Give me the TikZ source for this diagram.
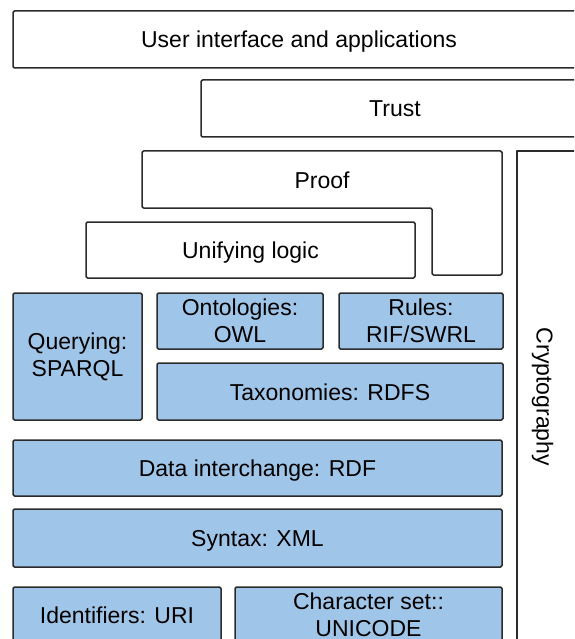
\documentclass[tikz,border=0pt]{standalone}
\usepackage{fontspec}
\setmainfont{Liberation Sans}
\definecolor{layerblue}{HTML}{9FC5E8}
\definecolor{layerline}{HTML}{2B2B2B}
\tikzset{
	layer/.style={draw=layerline, line width=1.5pt, rounded corners=1.5pt, inner sep=0pt, align=center},
	bluelayer/.style={layer, fill=layerblue},
	oneline/.style={text height=17pt, text depth=0pt}
}
\begin{document}
\begin{tikzpicture}[x=1pt, y=-1pt, font=\fontsize{23}{27}\selectfont, line join=round, line cap=round]
		\useasboundingbox (0,0) rectangle (574,639);
		\clip (0,0) rectangle (574,639);
		\node[layer, oneline, minimum width=572, minimum height=57] (ui) at (299,39.5) {User interface and applications};
		\node[layer, oneline, minimum width=388, minimum height=57] (trust) at (395,108.5) {Trust};
		\draw[layerline, line width=1.5pt, rounded corners=1.5pt] (142,151)--(502,151)--(502,275)--(432,275)--(432,208)--(142,208)--cycle;
		\node[oneline] (proof) at (322,180) {Proof};
		\node[layer, oneline, minimum width=329, minimum height=56] (logic) at (250.5,250) {Unifying logic};
		\draw[layerline, line width=1.5pt] (517,700)--(517,151)--(620,151);
		\node[rotate=-90, oneline] (crypto) at (545,397) {Cryptography};
		\node[bluelayer, minimum width=129, minimum height=127] (sparql) at (77.5,356.5) {Querying:\\SPARQL};
		\node[bluelayer, minimum width=166, minimum height=56] (owl) at (240,321) {Ontologies:\\OWL};
		\node[bluelayer, minimum width=164, minimum height=56] (rif) at (421,321) {Rules:\\RIF/SWRL};
		\node[bluelayer, oneline, minimum width=346, minimum height=57] (rdfs) at (330,391.5) {Taxonomies: RDFS};
		\node[bluelayer, oneline, minimum width=489, minimum height=56] (rdf) at (257.5,468) {Data interchange: RDF};
		\node[bluelayer, oneline, minimum width=489, minimum height=58] (xml) at (257.5,538) {Syntax: XML};
		\node[bluelayer, oneline, minimum width=208, minimum height=56] (uri) at (117,615) {Identifiers: URI};
		\node[bluelayer, minimum width=267, minimum height=56] (unicode) at (368.5,615) {Character set::\\UNICODE};
	\end{tikzpicture}
\end{document}
